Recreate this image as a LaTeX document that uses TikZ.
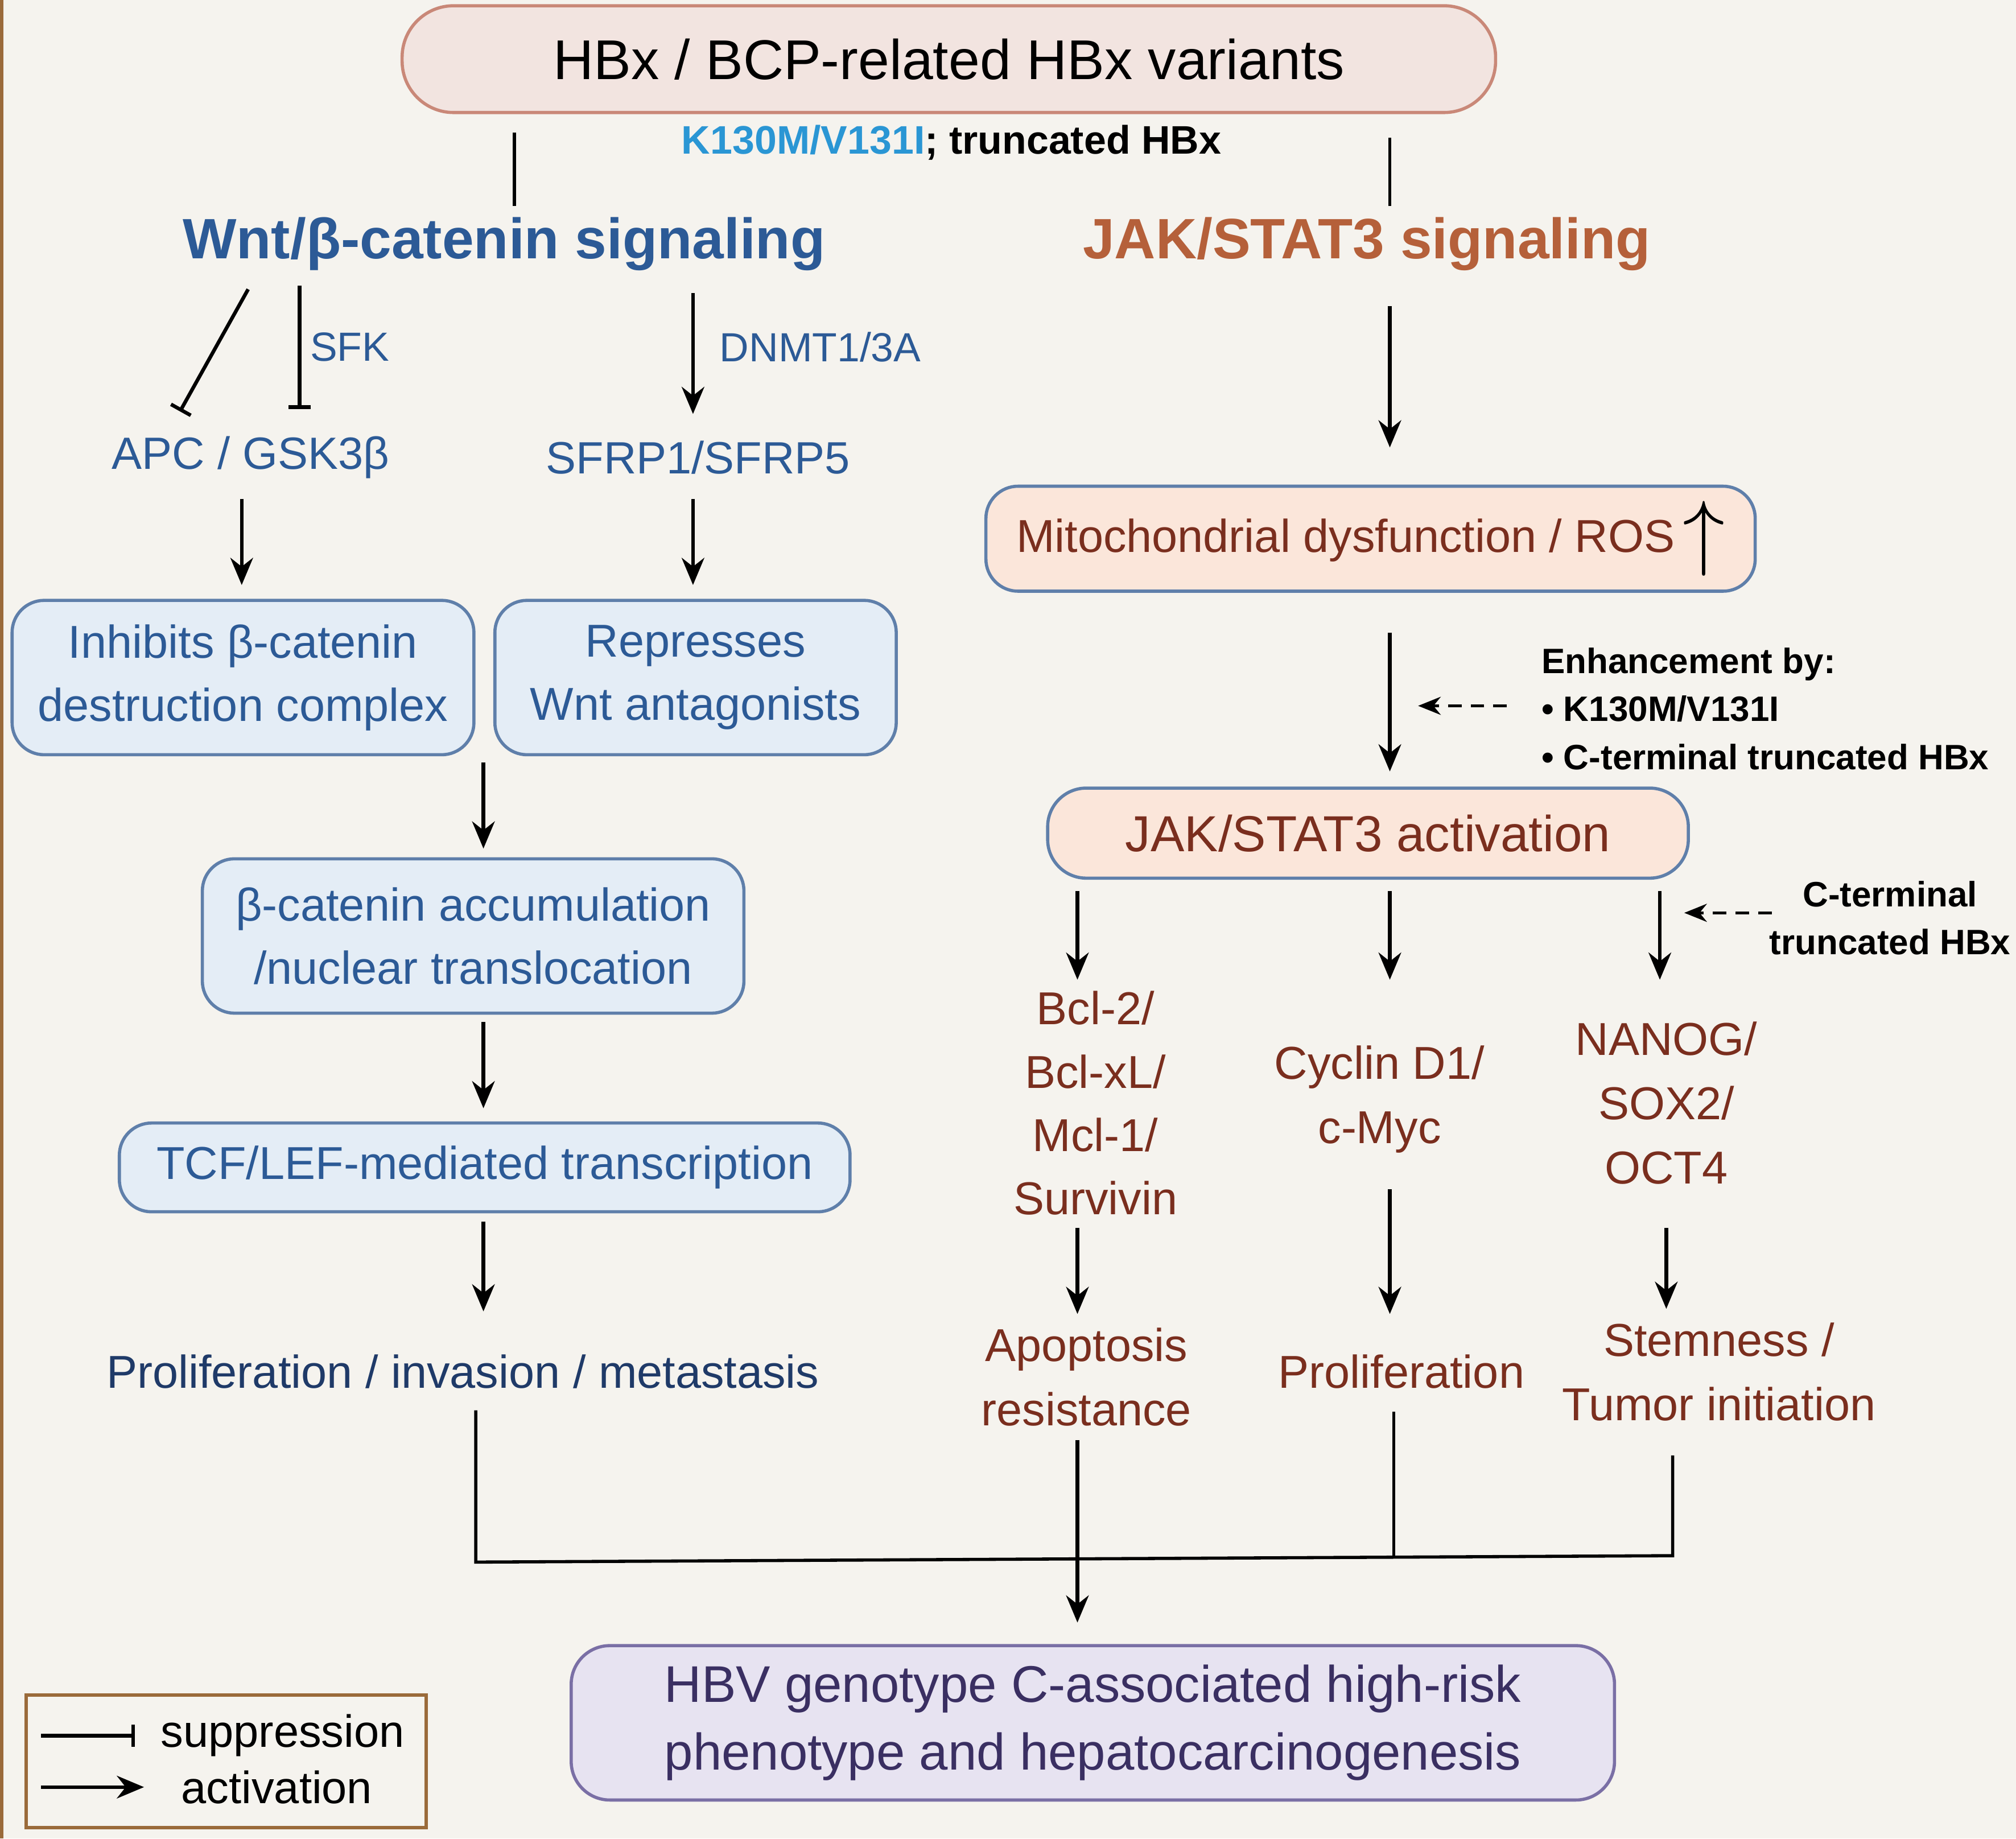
\documentclass[tikz,border=0pt]{standalone}
\usepackage{fontspec}
\setmainfont{Liberation Sans}
\usetikzlibrary{arrows.meta}
\definecolor{bgc}{HTML}{F5F3EE}
\definecolor{wntblue}{HTML}{2C5A96}
\definecolor{navy}{HTML}{1F3A68}
\definecolor{jakred}{HTML}{B5603A}
\definecolor{brownred}{HTML}{7A2E1E}
\definecolor{cyanish}{HTML}{2A96D4}
\definecolor{boxblue}{HTML}{E4EDF6}
\definecolor{boxborder}{HTML}{5F7FAA}
\definecolor{boxpeach}{HTML}{FBE6DA}
\definecolor{boxlila}{HTML}{E7E3F1}
\definecolor{lilaborder}{HTML}{7A6FA5}
\definecolor{topfill}{HTML}{F2E4E0}
\definecolor{topborder}{HTML}{C98878}
\definecolor{legborder}{HTML}{9A6A3A}
\definecolor{outtxt}{HTML}{3A2F62}
\tikzset{
	act/.style={-{Stealth[length=6pt,width=5pt]},line width=0.8pt},
	sup/.style={-{Bar[width=5pt]},line width=0.8pt},
	dashact/.style={-{Stealth[length=5pt,width=4pt]},densely dashed,line width=0.6pt},
	bluebox/.style={draw=boxborder,fill=boxblue,rounded corners=0.25cm,align=center,
		font=\fontsize{10.2}{14}\selectfont,text=wntblue},
	bluetxt/.style={text=wntblue,font=\fontsize{10}{13}\selectfont},
	redtxt/.style={text=brownred,font=\fontsize{10.2}{14.2}\selectfont,align=center},
}
\begin{document}
\begin{tikzpicture}[x=0.01cm,y=-0.01cm,line width=0.7pt]
	% background and page margins
	\fill[bgc] (0,0) rectangle (1568,1430);
	\useasboundingbox (0,0) rectangle (1568,1430);
	\draw[legborder,line width=1pt] (1,0) -- (1,1430);
	% top
	\node[draw=topborder,fill=topfill,rounded corners=0.4cm,minimum width=8.5cm,minimum height=0.83cm,
		font=\fontsize{12.4}{15}\selectfont] (hbx) at (738,46) {HBx / BCP-related HBx variants};
	\node[font=\bfseries\fontsize{8.8}{11}\selectfont] (variants) at (740,111)
		{\textcolor{cyanish}{K130M/V131I}; truncated HBx};
	\node[text=wntblue,font=\bfseries\fontsize{12.6}{15}\selectfont] (wnt) at (392,190) {Wnt/β-catenin signaling};
	\node[text=jakred,font=\bfseries\fontsize{12.6}{15}\selectfont] (jak) at (1063,190) {JAK/STAT3 signaling};
	\coordinate (w0) at (400,103); \coordinate (w1) at (400,160);
	\coordinate (j0) at (1081,107); \coordinate (j1) at (1081,160);
	\draw (w0) -- (w1);
	\draw (j0) -- (j1);
	% Wnt branch
	\node[bluetxt] (apc) at (195,356) {APC / GSK3β};
	\node[bluetxt] (sfrp) at (543,356) {SFRP1/SFRP5};
	\node[bluetxt,font=\fontsize{9}{11}\selectfont] (sfk) at (272,270) {SFK};
	\node[bluetxt,font=\fontsize{9}{11}\selectfont] (dnmt) at (638,270) {DNMT1/3A};
	\coordinate (s1a) at (193,225); \coordinate (s1b) at (140,320);
	\coordinate (s2a) at (233,222); \coordinate (s2b) at (233,318);
	\coordinate (d0) at (539,228); \coordinate (d1) at (539,322);
	\draw[sup] (s1a) -- (s1b);
	\draw[sup] (s2a) -- (s2b);
	\draw[act] (d0) -- (d1);
	\node[bluebox,minimum width=3.59cm,minimum height=1.2cm] (inhib) at (189,527)
		{Inhibits β-catenin\\destruction complex};
	\node[bluebox,minimum width=3.12cm,minimum height=1.2cm] (repress) at (541,527)
		{Represses\\Wnt antagonists};
	\draw[act] (188,388) coordinate (a0) -- (188,455) coordinate (a1);
	\draw[act] (539,388) coordinate (b0) -- (539,455) coordinate (b1);
	\node[bluebox,minimum width=4.21cm,minimum height=1.2cm] (accum) at (368,728)
		{β-catenin accumulation\\ /nuclear translocation};
	\draw[act] (376,593) coordinate (c0) -- (376,660) coordinate (c1);
	\node[bluebox,minimum width=5.68cm,minimum height=0.69cm] (tcf) at (377,908)
		{TCF/LEF-mediated transcription};
	\draw[act] (376,795) coordinate (e0) -- (376,862) coordinate (e1);
	\draw[act] (376,950) coordinate (f0) -- (376,1020) coordinate (f1);
	\node[text=navy,font=\fontsize{10.2}{13}\selectfont] (prolinv) at (360,1067)
		{Proliferation / invasion / metastasis};
	% JAK/STAT3 branch
	\draw[act] (1081,238) coordinate (g0) -- (1081,348) coordinate (g1);
	\node[draw=boxborder,fill=boxpeach,rounded corners=0.25cm,minimum width=5.98cm,minimum height=0.77cm,
		text=brownred,font=\fontsize{10.2}{13}\selectfont] (mito) at (1066,419)
		{Mitochondrial dysfunction / ROS\,\textcolor{black}{\raisebox{-0.3ex}{\resizebox{!}{2.4ex}{$\uparrow$}}}};
	\draw[act] (1081,492) coordinate (h0) -- (1081,600) coordinate (h1);
	\node[anchor=north west,align=left,font=\bfseries\fontsize{7.8}{10.6}\selectfont] (enh) at (1186,491)
		{Enhancement by:\\• K130M/V131I\\• C-terminal truncated HBx};
	\coordinate (enharr) at (1172,549);
	\draw[dashact] (enharr) -- (1103,549);
	\node[draw=boxborder,fill=boxpeach,rounded corners=0.3cm,minimum width=4.98cm,minimum height=0.7cm,
		text=brownred,font=\fontsize{11.2}{14}\selectfont] (jakact) at (1064,648) {JAK/STAT3 activation};
	\draw[act] (838,693) coordinate (k0) -- (838,762) coordinate (k1);
	\draw[act] (1081,693) coordinate (l0) -- (1081,762) coordinate (l1);
	\draw[act] (1291,693) coordinate (m0) -- (1291,762) coordinate (m1);
	\node[align=center,font=\bfseries\fontsize{7.8}{10.6}\selectfont] (cterm) at (1470,714)
		{C-terminal\\truncated HBx};
	\coordinate (ctarr) at (1378,710);
	\draw[dashact] (ctarr) -- (1310,710);
	\node[redtxt,font=\fontsize{10.2}{14}\selectfont] (bcl) at (852,858) {Bcl-2/\\Bcl-xL/\\Mcl-1/\\Survivin};
	\node[redtxt] (cyclin) at (1073,855) {Cyclin D1/\\c-Myc};
	\node[redtxt] (nanog) at (1296,858) {NANOG/\\SOX2/\\OCT4};
	\draw[act] (838,955) coordinate (n0) -- (838,1022) coordinate (n1);
	\draw[act] (1081,925) coordinate (o0) -- (1081,1022) coordinate (o1);
	\draw[act] (1296,955) coordinate (p0) -- (1296,1018) coordinate (p1);
	\node[redtxt] (apop) at (845,1071) {Apoptosis\\resistance};
	\node[redtxt] (prolif) at (1090,1067) {Proliferation};
	\node[redtxt] (stem) at (1337,1067) {Stemness /\\Tumor initiation};
	% merge to outcome
	\node[draw=lilaborder,fill=boxlila,rounded corners=0.3cm,minimum width=8.11cm,minimum height=1.2cm,
		align=center,text=outtxt,font=\fontsize{11.4}{15}\selectfont] (outcome) at (850,1340)
		{HBV genotype C-associated high-risk\\phenotype and hepatocarcinogenesis};
	\coordinate (q0) at (370,1097); \coordinate (q1) at (370,1215);
	\coordinate (r0) at (1084,1098); \coordinate (r1) at (1084,1212);
	\coordinate (t0) at (1301,1132); \coordinate (t1) at (1301,1210);
	\draw (q0) -- (q1) -- (t1) -- (t0);
	\draw (r0) -- (r1);
	\draw[act] (838,1120) coordinate (u0) -- (838,1262) coordinate (u1);
	% legend
	\node[draw=legborder,minimum width=3.11cm,minimum height=1.03cm] (legend) at (176,1370) {};
	\draw[sup] (32,1350) coordinate (v0) -- (105,1350) coordinate (v1);
	\draw[act] (32,1390) coordinate (x0) -- (112,1390) coordinate (x1);
	\node[anchor=west,font=\fontsize{10}{12}\selectfont] (legsup) at (112,1350) {suppression};
	\node[anchor=west,font=\fontsize{10}{12}\selectfont] (legact) at (128,1390) {activation};
\end{tikzpicture}
\end{document}
